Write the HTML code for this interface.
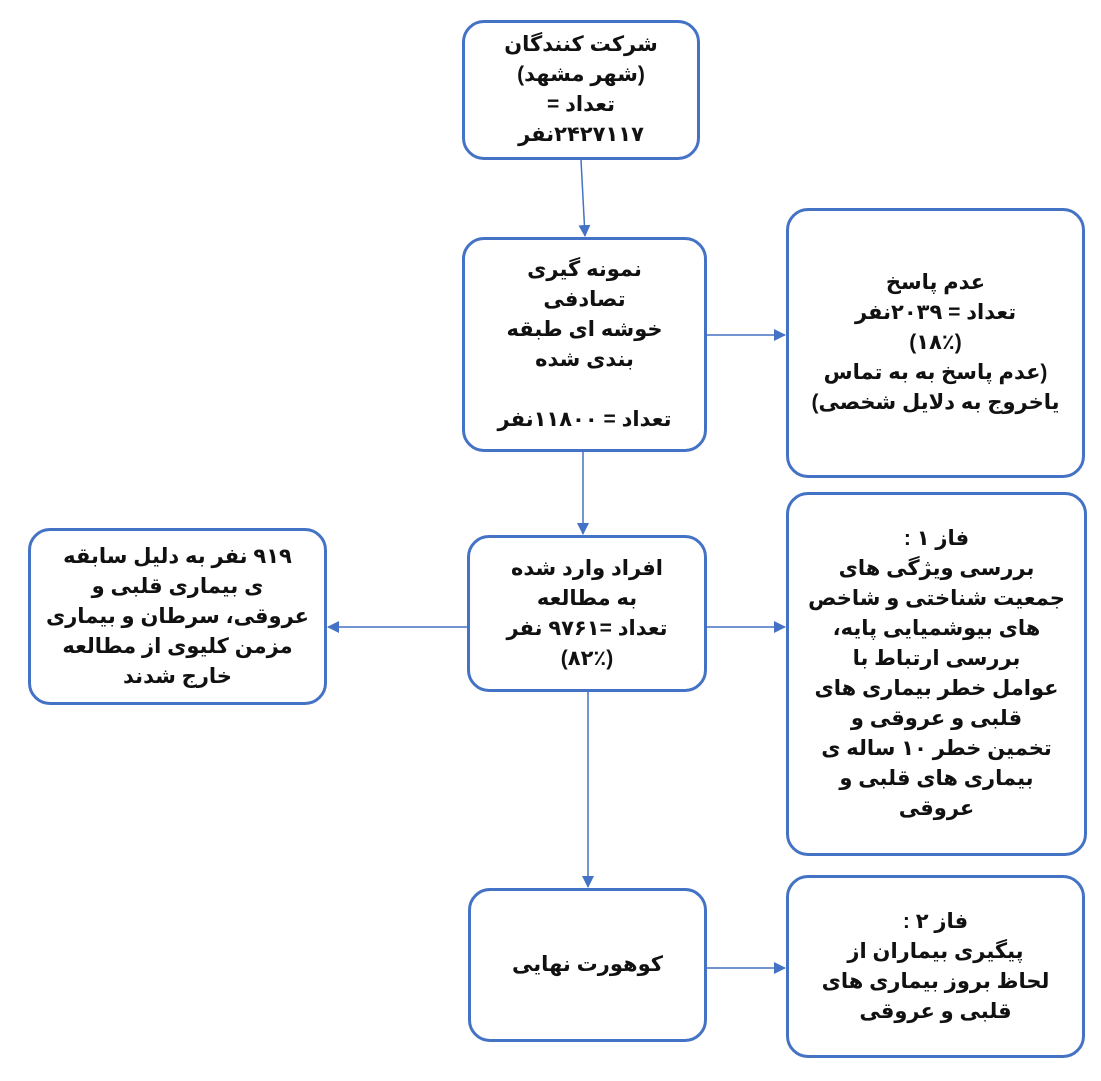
<!DOCTYPE html>
<html><head><meta charset="utf-8"><style>
body{margin:0;width:1101px;height:1081px;background:#fff;position:relative;overflow:hidden;font-family:"Liberation Sans","Noto Sans CJK SC","DejaVu Sans",sans-serif;}
.b{position:absolute;box-sizing:border-box;border:3px solid #4472c4;border-radius:22px;display:flex;align-items:center;justify-content:center;text-align:center;direction:rtl;font-weight:bold;font-size:21px;line-height:30px;letter-spacing:2.5px;color:#111;}
svg{position:absolute;left:0;top:0}
</style></head><body>
<svg width="1101" height="1081">
<defs><marker id="a" markerWidth="12" markerHeight="12" refX="11" refY="6" orient="auto" markerUnits="userSpaceOnUse"><path d="M0,0 L12,6 L0,12 z" fill="#4472c4"/></marker></defs>
<g stroke="#4472c4" stroke-width="1.5" fill="none" marker-end="url(#a)">
<line x1="581" y1="160" x2="585" y2="236"/>
<line x1="707" y1="335" x2="785" y2="335"/>
<line x1="583" y1="452" x2="583" y2="534"/>
<line x1="467" y1="627" x2="328" y2="627"/>
<line x1="707" y1="627" x2="785" y2="627"/>
<line x1="588" y1="692" x2="588" y2="887"/>
<line x1="707" y1="968" x2="785" y2="968"/>
</g></svg>
<div class="b" style="left:462px;top:20px;width:238px;height:140px">شرکت کنندگان<br>(شهر مشهد)<br>تعداد =<br>۲۴۲۷۱۱۷نفر</div>
<div class="b" style="left:462px;top:237px;width:245px;height:215px">نمونه گیری<br>تصادفی<br>خوشه ای طبقه<br>بندی شده<br><br>تعداد = ۱۱۸۰۰نفر</div>
<div class="b" style="left:786px;top:208px;width:299px;height:270px">عدم پاسخ<br>تعداد = ۲۰۳۹نفر<br>(۱۸٪)<br>(عدم پاسخ به به تماس<br>یاخروج به دلایل شخصی)</div>
<div class="b" style="left:786px;top:492px;width:301px;height:364px">فاز ۱ :<br>بررسی ویژگی های<br>جمعیت شناختی و شاخص<br>های بیوشمیایی پایه،<br>بررسی ارتباط با<br>عوامل خطر بیماری های<br>قلبی و عروقی و<br>تخمین خطر ۱۰ ساله ی<br>بیماری های قلبی و<br>عروقی</div>
<div class="b" style="left:467px;top:535px;width:240px;height:157px">افراد وارد شده<br>به مطالعه<br>تعداد =۹۷۶۱ نفر<br>(۸۲٪)</div>
<div class="b" style="left:28px;top:528px;width:299px;height:177px">۹۱۹ نفر به دلیل سابقه<br>ی بیماری قلبی و<br>عروقی، سرطان و بیماری<br>مزمن کلیوی از مطالعه<br>خارج شدند</div>
<div class="b" style="left:468px;top:888px;width:239px;height:154px">کوهورت نهایی</div>
<div class="b" style="left:786px;top:875px;width:299px;height:183px">فاز ۲ :<br>پیگیری بیماران از<br>لحاظ بروز بیماری های<br>قلبی و عروقی</div>
</body></html>
